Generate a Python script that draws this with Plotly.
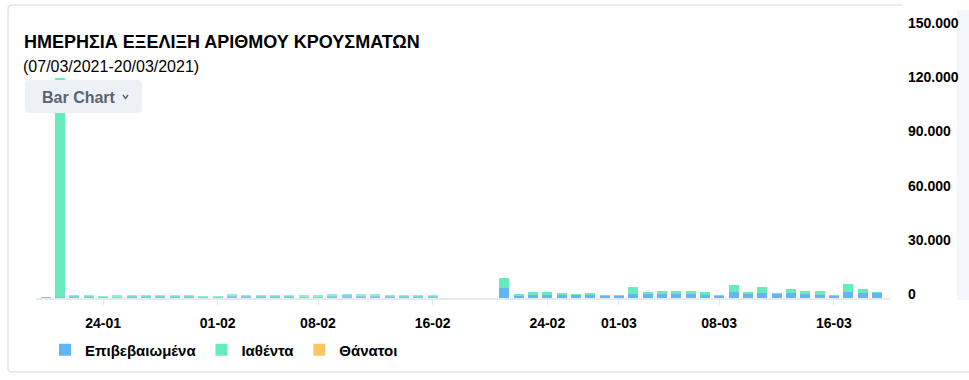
import plotly.graph_objects as go
import pandas as pd

# ---------------- data ----------------
dates_jan_feb = pd.date_range("2021-01-20", "2021-02-16").strftime("%Y-%m-%d").tolist()
dates_feb_mar = pd.date_range("2021-02-21", "2021-03-19").strftime("%Y-%m-%d").tolist()
dates = dates_jan_feb + dates_feb_mar

confirmed = [
    500, 700, 650, 600, 450, 400, 800, 900, 850, 800, 700, 500, 350, 1200,
    1100, 1000, 900, 800, 500, 400, 1300, 1400, 1200, 1300, 1100, 700, 600, 900,
    5700, 1100, 1800, 1650, 1470, 1840, 1650, 1290, 1290, 2400, 2580, 2210, 2210,
    2210, 1470, 1290, 3130, 2580, 2760, 2400, 2580, 2210, 1660, 1470, 3320, 2950, 2760,
]
recovered = [
    0, 120800, 600, 550, 900, 1000, 700, 600, 700, 500, 500, 600, 1000, 500,
    500, 600, 700, 700, 1000, 1100, 600, 900, 600, 500, 500, 1000, 1100, 1000,
    5400, 1300, 1650, 1470, 1470, 200, 740, 150, 150, 3870, 200, 1470, 1470,
    1840, 1660, 100, 3870, 150, 3320, 100, 2210, 1840, 2030, 150, 4420, 2210, 100,
]
deaths = [
    30, 35, 30, 28, 25, 27, 30, 32, 28, 26, 25, 24, 22, 30,
    28, 26, 25, 24, 22, 20, 28, 30, 27, 26, 24, 22, 20, 25,
    40, 30, 35, 34, 33, 32, 30, 28, 27, 35, 36, 38, 37,
    35, 34, 30, 45, 44, 46, 42, 40, 38, 36, 35, 50, 48, 46,
]

series_names = ["Επιβεβαιωμένα", "Ιαθέντα", "Θάνατοι"]
tick_dates = ["2021-01-24", "2021-02-01", "2021-02-08", "2021-02-16",
              "2021-02-24", "2021-03-01", "2021-03-08", "2021-03-16"]
tick_labels = ["24-01", "01-02", "08-02", "16-02", "24-02", "01-03", "08-03", "16-03"]
y_ticks = [0, 30000, 60000, 90000, 120000, 150000]

title_text = "ΗΜΕΡΗΣΙΑ ΕΞΕΛΙΞΗ ΑΡΙΘΜΟΥ ΚΡΟΥΣΜΑΤΩΝ"
subtitle_text = "(07/03/2021-20/03/2021)"
button_text = "Bar Chart"

# ---------------- style ----------------
W, H = 969, 380
BLUE, GREEN, ORANGE = "#64b5f6", "#66ecbc", "#fcc462"
FONT = "Liberation Sans"


def px(x):
    return x / W


def py(y):
    return 1 - y / H


def faded(values, cutoff="2021-02-21"):
    return [1.0 if (d >= cutoff or v > 50000) else 0.72 for d, v in zip(dates, values)]


fig = go.Figure()
# deaths are tiny; stacked first (at the base) so the axis line covers them
fig.add_trace(go.Bar(x=dates, y=deaths, name=series_names[2], legendrank=3,
                     marker=dict(color=ORANGE, opacity=faded(deaths), line=dict(width=0))))
fig.add_trace(go.Bar(x=dates, y=confirmed, name=series_names[0], legendrank=1,
                     marker=dict(color=BLUE, opacity=faded(confirmed), line=dict(width=0))))
fig.add_trace(go.Bar(x=dates, y=recovered, name=series_names[1], legendrank=2,
                     marker=dict(color=GREEN, opacity=faded(recovered), line=dict(width=0))))


def rounded_rect(x0, y0, x1, y1, r):
    X0, X1 = px(x0), px(x1)
    Y0, Y1 = py(y0), py(y1)
    rx, ry = r / W, r / H
    return (f"M{X0+rx},{Y0} L{X1-rx},{Y0} Q{X1},{Y0} {X1},{Y0-ry} "
            f"L{X1},{Y1+ry} Q{X1},{Y1} {X1-rx},{Y1} L{X0+rx},{Y1} "
            f"Q{X0},{Y1} {X0},{Y1+ry} L{X0},{Y0-ry} Q{X0},{Y0} {X0+rx},{Y0} Z")


rx, ry = 4 / W, 4 / H
border_path = (f"M{px(903)},{py(5)} L{px(8)+rx},{py(5)} Q{px(8)},{py(5)} {px(8)},{py(5)-ry} "
               f"L{px(8)},{py(372)+ry} Q{px(8)},{py(372)} {px(8)+rx},{py(372)} L{px(969)},{py(372)}")

shapes = [
    dict(type="path", xref="paper", yref="paper", path=border_path,
         line=dict(color="#e1e6ec", width=1.5), layer="below"),
    dict(type="rect", xref="paper", yref="paper", x0=px(957), x1=px(969), y0=py(300), y1=py(10),
         fillcolor="#f3f6fa", line=dict(width=0), layer="below"),
    dict(type="path", xref="paper", yref="paper", path=rounded_rect(25, 80, 142, 113, 4),
         fillcolor="#edf1f6", line=dict(width=0), layer="above"),
    dict(type="path", xref="paper", yref="paper",
         path=f"M{px(123)},{py(95)} L{px(125.5)},{py(98.5)} L{px(128)},{py(95)}",
         line=dict(color="#5a6372", width=1.5), layer="above"),
]

annotations = [
    dict(text=subtitle_text, xref="paper", yref="paper", x=px(21), y=py(66),
         xanchor="left", yanchor="middle", showarrow=False,
         font=dict(family=FONT, size=16, color="#000000")),
    dict(text=button_text, xref="paper", yref="paper", x=px(40), y=py(97),
         xanchor="left", yanchor="middle", showarrow=False,
         font=dict(family=FONT, size=16, color="#5a6372", weight="bold")),
]

fig.update_layout(
    width=W, height=H,
    margin=dict(l=0, r=0, t=0, b=0, autoexpand=False),
    paper_bgcolor="white", plot_bgcolor="white",
    barmode="stack", bargap=0.3,
    separators=",.",
    font=dict(family=FONT, size=14, color="#000000"),
    title=dict(text=title_text, x=px(24), xanchor="left", xref="paper",
               y=py(42), yanchor="middle", yref="paper",
               font=dict(family=FONT, size=18, color="#000000", weight="bold")),
    xaxis=dict(
        domain=[px(36), px(890)], type="date", automargin=False,
        range=["2021-01-19 07:40", "2021-03-19 22:00"],
        tickvals=tick_dates, ticktext=tick_labels,
        ticks="outside", ticklen=5, tickcolor="#e2e5e9", tickwidth=1,
        showline=True, linecolor="#e6e9ed", linewidth=2,
        showgrid=False, zeroline=False,
        tickfont=dict(family=FONT, size=14, color="#000000", weight="bold"),
        ticklabelstandoff=6,
    ),
    yaxis=dict(
        domain=[py(298), py(27)], range=[0, 150000], side="right", automargin=False,
        tickvals=y_ticks, tickformat=",",
        showgrid=False, zeroline=False, showline=False, ticks="",
        ticklabelstandoff=17, ticklabelshift=-4,
        tickfont=dict(family=FONT, size=14, color="#000000", weight="bold"),
    ),
    legend=dict(orientation="h", x=px(45), y=py(350), xanchor="left", yanchor="middle",
                xref="paper", yref="paper", itemwidth=30, traceorder="normal",
                bgcolor="rgba(0,0,0,0)",
                font=dict(family=FONT, size=15, color="#000000", weight="bold")),
    shapes=shapes,
    annotations=annotations,
)

fig.write_html("out.html", config={"displayModeBar": False},
               post_script="document.body.style.margin='0';document.body.style.overflow='hidden';")
